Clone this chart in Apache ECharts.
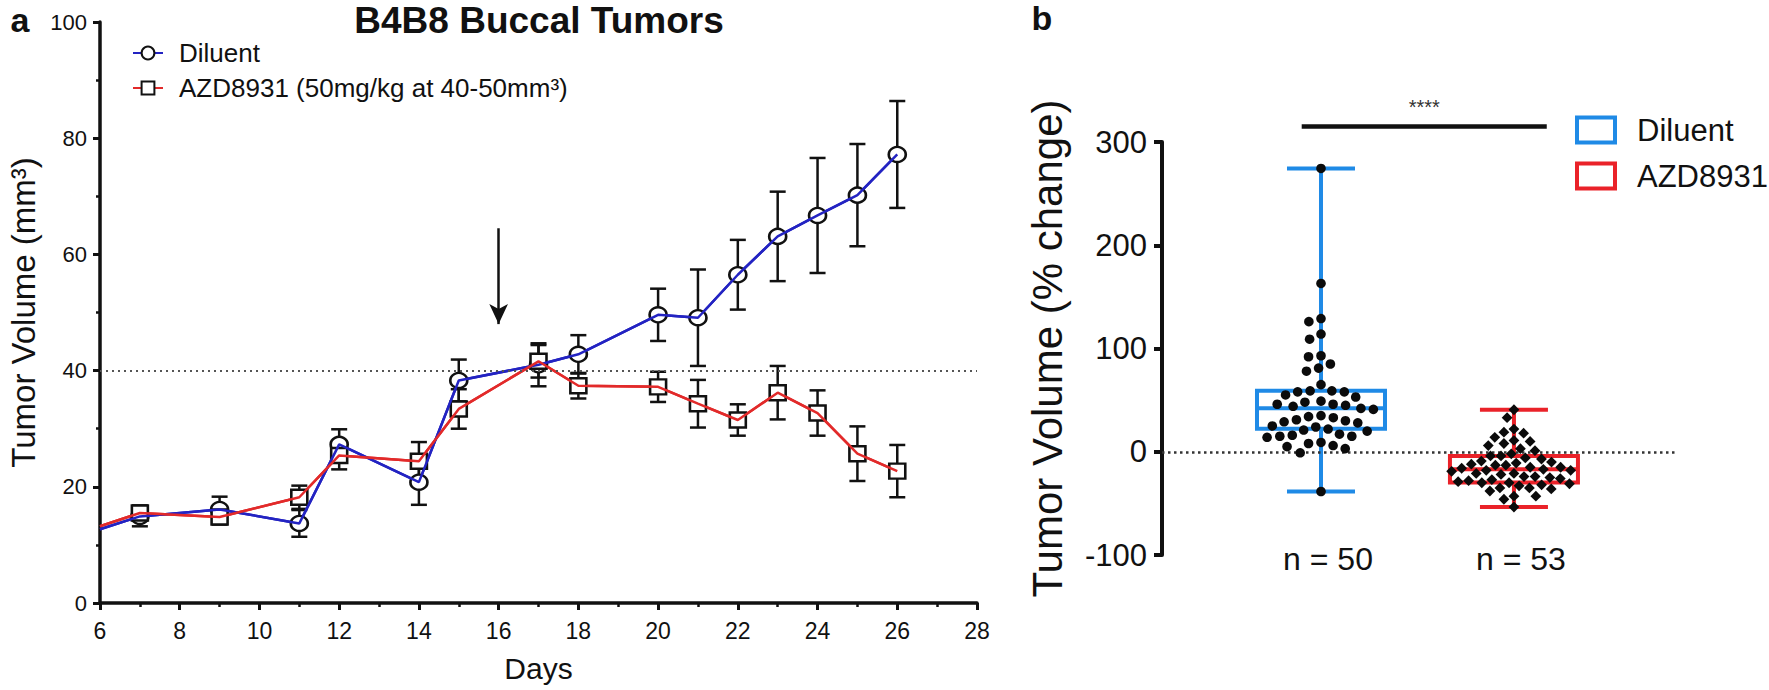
<!DOCTYPE html>
<html>
<head>
<meta charset="utf-8">
<script src="https://cdn.jsdelivr.net/npm/echarts@6/dist/echarts.min.js"></script>
<style>html,body{margin:0;padding:0;background:#fff}#c{width:1769px;height:690px}</style>
</head>
<body>
<div id="c"></div>
<script>
// ---------- Panel a data ----------
const days = [6, 7, 9, 11, 12, 14, 15, 17, 18, 20, 21, 22, 23, 24, 25, 26];
const diluentMean = [12.7, 14.9, 16.1, 13.7, 27.3, 20.8, 38.3, 41.0, 42.8, 49.6, 49.1, 56.5, 63.1, 66.7, 70.2, 77.2];
const diluentSem  = [null, 1.7, 2.2, 2.3, 2.6, 3.9, 3.6, 3.7, 3.3, 4.5, 8.3, 6.0, 7.7, 9.9, 8.8, 9.2];
const azdMean = [13.2, 15.5, 14.8, 18.2, 25.4, 24.4, 33.4, 41.6, 37.4, 37.2, 34.3, 31.5, 36.2, 32.7, 25.7, 22.7];
const azdSem  = [null, 1.3, 1.3, 2.0, 2.4, 3.3, 3.4, 2.8, 2.2, 2.6, 4.1, 2.7, 4.6, 3.9, 4.7, 4.5];
const seriesNamesA = ['Diluent', 'AZD8931 (50mg/kg at 40-50mm³)'];
const thresholdLine = 40;
const arrowDay = 16, arrowFrom = 64.5, arrowTo = 48;

// ---------- Panel b data ----------
const groups = ['Diluent', 'AZD8931'];
const groupN = ['n = 50', 'n = 53'];
// [min, q1, median, q3, max]
const diluentBox = [-38.5, 22.2, 42.2, 59.2, 274.4];
const azdBox = [-53.5, -29.8, -17, -4.2, 40.7];
const diluentPct = [274.4, 163, 129, 126, 114, 109, 93, 92, 85, 81, 78, 65, 59, 59, 58, 58, 55, 53, 49, 48,
  46, 46, 45, 44, 42, 41, 35, 34, 33, 31, 30, 29, 28, 25, 24, 22, 21, 20, 17, 16,
  15, 15, 14, 9, 8, 6, 5, 3, -1, -38.5];
const azdPct = [40.7, 33, 22, 19, 18, 14, 11, 10, 8, 6, 3, 1, -2, -4, -4, -6, -7, -9, -10, -11,
  -12, -13, -13, -15, -15, -16, -17, -18, -18, -19, -21, -21, -22, -24, -24, -25, -26, -27, -28, -29,
  -30, -30, -31, -32, -33, -35, -35, -36, -38, -43, -43, -46, -53.5];
const sigLabel = '****';
const sigLevel = 315;
const sigFrom = -0.1, sigTo = 1.17;

// ---------- styles ----------
const FONT = '"Liberation Sans", Arial, Helvetica, sans-serif';
const INK = '#111';
const BLUE_A = '#2323C2', RED_A = '#E22A2A';
const BLUE_B = '#1F8AE6', RED_B = '#EA2229';

const chart = echarts.init(document.getElementById('c'), null, {renderer: 'svg'});

function errRender(params, api) {
  const x = api.value(0), m = api.value(1), s = api.value(2);
  const t = api.coord([x, m + s]), b = api.coord([x, m - s]);
  const hw = 8;
  const st = {stroke: INK, lineWidth: 2.5};
  return {type: 'group', children: [
    {type: 'line', shape: {x1: t[0], y1: t[1], x2: b[0], y2: b[1]}, style: st},
    {type: 'line', shape: {x1: t[0] - hw, y1: t[1], x2: t[0] + hw, y2: t[1]}, style: st},
    {type: 'line', shape: {x1: b[0] - hw, y1: b[1], x2: b[0] + hw, y2: b[1]}, style: st}
  ]};
}
function errData(mean, sem) {
  const out = [];
  days.forEach((d, i) => { if (sem[i] != null) out.push([d, mean[i], sem[i]]); });
  return out;
}
function lineData(mean, sem) {
  return days.map((d, i) => (sem[i] == null ? {value: [d, mean[i]], symbol: 'none'} : [d, mean[i]]));
}

function boxRender(params, api) {
  const i = api.value(0);
  const mn = api.value(1), q1 = api.value(2), md = api.value(3), q3 = api.value(4), mx = api.value(5);
  const cx = api.coord([i, md])[0];
  const y = v => api.coord([i, v])[1];
  const color = api.visual('color');
  const bw = 64, cw = 34;
  const st = {stroke: color, lineWidth: 4, fill: 'none'};
  const yb = api.coord([i, -100])[1];
  return {type: 'group', children: [
    {type: 'line', shape: {x1: cx, y1: y(mx), x2: cx, y2: y(q3)}, style: st},
    {type: 'line', shape: {x1: cx, y1: y(q1), x2: cx, y2: y(mn)}, style: st},
    {type: 'line', shape: {x1: cx - cw, y1: y(mx), x2: cx + cw, y2: y(mx)}, style: st},
    {type: 'line', shape: {x1: cx - cw, y1: y(mn), x2: cx + cw, y2: y(mn)}, style: st},
    {type: 'rect', shape: {x: cx - bw, y: y(q3), width: 2 * bw, height: y(q1) - y(q3)}, style: st},
    {type: 'line', shape: {x1: cx - bw, y1: y(md), x2: cx + bw, y2: y(md)}, style: st},
    {type: 'text', x: cx + 7, y: yb + 4, style: {text: groupN[i], fill: INK, font: '32px ' + FONT, align: 'center', verticalAlign: 'middle'}}
  ]};
}

function sigRender(params, api) {
  const lv = api.value(2);
  const a = api.coord([api.value(0), lv]), b = api.coord([api.value(1), lv]);
  return {type: 'group', children: [
    {type: 'line', shape: {x1: a[0], y1: a[1], x2: b[0], y2: b[1]}, style: {stroke: INK, lineWidth: 4.5}},
    {type: 'text', x: (a[0] + b[0]) / 2, y: a[1] - 20, style: {text: sigLabel, fill: '#333', font: '20px ' + FONT, align: 'center', verticalAlign: 'middle'}}
  ]};
}

function dotRender(shape) {
  return function (params, api) {
    const p = api.coord([api.value(0), api.value(1)]);
    const x = p[0] + api.value(2), y = p[1];
    if (shape === 'circle') return {type: 'circle', shape: {cx: x, cy: y, r: 4.8}, style: {fill: '#0b0b0b'}};
    const r = 5.4;
    return {type: 'polygon', shape: {points: [[x, y - r], [x + r, y], [x, y + r], [x - r, y]]}, style: {fill: '#0b0b0b'}};
  };
}

// beeswarm layout (pixel offsets) computed from pixel y positions
function swarm(yPx, d) {
  const order = yPx.map((v, i) => i).sort((a, b) => yPx[a] - yPx[b]);
  const placed = [];
  const off = new Array(yPx.length).fill(0);
  for (const i of order) {
    const y = yPx[i];
    const near = placed.filter(p => Math.abs(p.y - y) < d);
    const cands = [0];
    near.forEach(p => { const dx = Math.sqrt(d * d - (p.y - y) * (p.y - y)); cands.push(p.x + dx, p.x - dx); });
    cands.sort((a, b) => Math.abs(a) - Math.abs(b) || a - b);
    let x = 0;
    for (const c of cands) {
      if (near.every(p => (p.x - c) * (p.x - c) + (p.y - y) * (p.y - y) >= d * d - 0.01)) { x = c; break; }
    }
    placed.push({x, y});
    off[i] = x;
  }
  return off;
}

const axisCommon = {
  axisLine: {show: true, onZero: false, lineStyle: {color: INK, width: 3.5}},
  axisTick: {show: true, length: 7, lineStyle: {color: INK, width: 3}},
  splitLine: {show: false},
};

const option = {
  animation: false,
  backgroundColor: '#fff',
  textStyle: {fontFamily: FONT, color: INK},
  grid: [
    {left: 100, right: 792, top: 22, bottom: 87},
    {left: 1162, right: 92, top: 142, bottom: 135}
  ],
  xAxis: [
    Object.assign({}, axisCommon, {
      type: 'value', gridIndex: 0, min: 6, max: 28, interval: 2,
      minorTick: {show: true, splitNumber: 2, length: 4, lineStyle: {color: INK, width: 2.5}},
      minorSplitLine: {show: false},
      axisLabel: {fontSize: 23, margin: 16, color: INK, fontFamily: FONT},
      name: 'Days', nameLocation: 'middle', nameGap: 50,
      nameTextStyle: {fontSize: 30, color: INK, fontFamily: FONT}
    }),
    {type: 'value', gridIndex: 1, min: -0.824, max: 1.845, show: false}
  ],
  yAxis: [
    Object.assign({}, axisCommon, {
      type: 'value', gridIndex: 0, min: 0, max: 100, interval: 20,
      minorTick: {show: true, splitNumber: 2, length: 4, lineStyle: {color: INK, width: 2.5}},
      minorSplitLine: {show: false},
      axisLabel: {fontSize: 22, margin: 13, color: INK, fontFamily: FONT},
      name: 'Tumor Volume (mm³)', nameLocation: 'middle', nameGap: 60,
      nameTextStyle: {fontSize: 33, color: INK, fontFamily: FONT}
    }),
    {
      type: 'value', gridIndex: 1, min: -100, max: 300, interval: 100,
      axisLine: {show: true, onZero: false, lineStyle: {color: INK, width: 4}},
      axisTick: {show: true, length: 8, lineStyle: {color: INK, width: 4}},
      splitLine: {show: false},
      axisLabel: {fontSize: 31, margin: 15, color: INK, fontFamily: FONT},
      name: 'Tumor Volume (% change)', nameLocation: 'middle', nameGap: 94,
      nameTextStyle: {fontSize: 42, color: INK, fontFamily: FONT}
    }
  ],
  legend: [
    {
      left: 132, top: 40, orient: 'vertical', padding: 0, selectedMode: false,
      itemWidth: 30, itemHeight: 16, itemGap: 9,
      textStyle: {fontSize: 26, lineHeight: 25, color: INK, fontFamily: FONT, padding: [0, 0, 0, 11]},
      data: seriesNamesA
    },
    {
      left: 1575, top: 114.5, orient: 'vertical', padding: 0, selectedMode: false,
      itemWidth: 38, itemHeight: 25, itemGap: 15,
      textStyle: {fontSize: 31, lineHeight: 25, color: INK, fontFamily: FONT, padding: [0, 0, 0, 17]},
      formatter: n => n.slice(2),
      data: [
        {name: 'b-' + groups[0], icon: 'rect', itemStyle: {color: 'rgba(255,255,255,0)', borderColor: BLUE_B, borderWidth: 4}},
        {name: 'b-' + groups[1], icon: 'rect', itemStyle: {color: 'rgba(255,255,255,0)', borderColor: RED_B, borderWidth: 4}}
      ]
    }
  ],
  graphic: [
    {type: 'text', x: 20, y: 19.5, style: {text: 'a', font: 'bold 34px ' + FONT, fill: INK, align: 'center', verticalAlign: 'middle'}},
    {type: 'text', x: 1042, y: 18, style: {text: 'b', font: 'bold 34px ' + FONT, fill: INK, align: 'center', verticalAlign: 'middle'}},
    {type: 'text', x: 539, y: 20, style: {text: 'B4B8 Buccal Tumors', font: 'bold 37px ' + FONT, fill: INK, align: 'center', verticalAlign: 'middle'}}
  ],
  series: [
    {type: 'custom', name: 'errDiluent', xAxisIndex: 0, yAxisIndex: 0, z: 2, silent: true,
      renderItem: errRender, data: errData(diluentMean, diluentSem)},
    {type: 'custom', name: 'errAZD', xAxisIndex: 0, yAxisIndex: 0, z: 2, silent: true,
      renderItem: errRender, data: errData(azdMean, azdSem)},
    {type: 'line', name: seriesNamesA[0], xAxisIndex: 0, yAxisIndex: 0, z: 3,
      symbol: 'circle', symbolSize: [17, 15], showAllSymbol: true,
      itemStyle: {color: '#fff', borderColor: INK, borderWidth: 2.5},
      lineStyle: {color: BLUE_A, width: 2.5},
      data: lineData(diluentMean, diluentSem)},
    {type: 'line', name: seriesNamesA[1], xAxisIndex: 0, yAxisIndex: 0, z: 3,
      symbol: 'rect', symbolSize: [16, 15], showAllSymbol: true,
      itemStyle: {color: '#fff', borderColor: INK, borderWidth: 2.5},
      lineStyle: {color: RED_A, width: 2.5},
      data: lineData(azdMean, azdSem),
      markLine: {
        silent: true, symbol: ['none', 'none'], symbolSize: [14, 20], label: {show: false},
        data: [
          {yAxis: thresholdLine, lineStyle: {type: [2, 4], color: '#555', width: 2}},
          [{coord: [arrowDay, arrowFrom], symbol: 'none', lineStyle: {type: 'solid', color: INK, width: 2.5}},
           {coord: [arrowDay, arrowTo], symbol: 'arrow'}]
        ]
      }},
    {type: 'line', name: 'lineDiluent', xAxisIndex: 0, yAxisIndex: 0, z: 4, silent: true,
      symbol: 'none', lineStyle: {color: BLUE_A, width: 2.5}, data: days.map((d, i) => [d, diluentMean[i]])},
    {type: 'line', name: 'lineAZD', xAxisIndex: 0, yAxisIndex: 0, z: 4, silent: true,
      symbol: 'none', lineStyle: {color: RED_A, width: 2.5}, data: days.map((d, i) => [d, azdMean[i]])},
    {type: 'custom', name: 'b-' + groups[0], xAxisIndex: 1, yAxisIndex: 1, z: 2, silent: true,
      itemStyle: {color: BLUE_B}, renderItem: boxRender, data: [[0].concat(diluentBox)],
      markLine: {
        silent: true, symbol: ['none', 'none'], label: {show: false},
        data: [{yAxis: 0, lineStyle: {type: [2.5, 3.5], color: '#333', width: 2.5}}]
      }},
    {type: 'custom', name: 'b-' + groups[1], xAxisIndex: 1, yAxisIndex: 1, z: 2, silent: true,
      itemStyle: {color: RED_B}, renderItem: boxRender, data: [[1].concat(azdBox)]},
    {type: 'custom', name: 'significance', xAxisIndex: 1, yAxisIndex: 1, z: 3, silent: true, clip: false,
      renderItem: sigRender, data: [[sigFrom, sigTo, sigLevel]]}
  ]
};
chart.setOption(option);

// second pass: beeswarm offsets from the pixel scale of panel b's y axis
const py = v => chart.convertToPixel({yAxisIndex: 1}, v);
const offD = swarm(diluentPct.map(py), 12.5);
const offA = swarm(azdPct.map(py), 10.5);
chart.setOption({
  series: option.series.concat([
    {type: 'custom', name: 'dotsDiluent', xAxisIndex: 1, yAxisIndex: 1, z: 6, silent: true,
      renderItem: dotRender('circle'), data: diluentPct.map((v, i) => [0, v, offD[i]])},
    {type: 'custom', name: 'dotsAZD', xAxisIndex: 1, yAxisIndex: 1, z: 6, silent: true,
      renderItem: dotRender('diamond'), data: azdPct.map((v, i) => [1, v, offA[i]])}
  ])
});
</script>
</body>
</html>
